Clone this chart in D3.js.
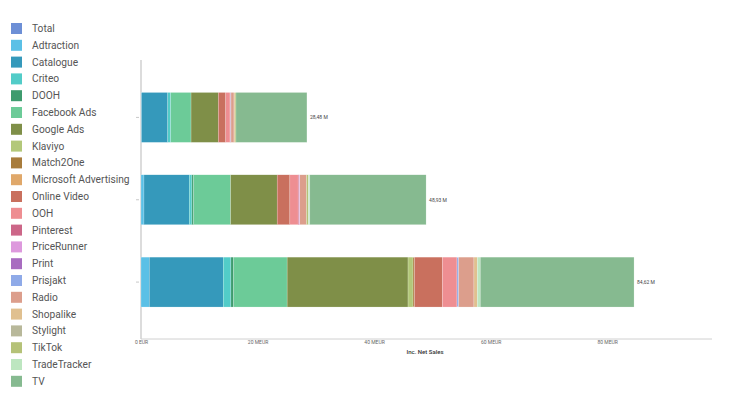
<!DOCTYPE html>
<html>
<head>
<meta charset="utf-8">
<script src="https://cdn.jsdelivr.net/npm/d3@7"></script>
<style>
  html, body { margin: 0; padding: 0; background: #fff; }
  svg { display: block; font-family: Roboto, "Noto Sans", sans-serif; }
</style>
</head>
<body>
<svg id="chart" width="730" height="400"></svg>
<script>
// ---- data ----
const categories = ["Period 1", "Period 2", "Period 3"];
const channels = ["Total", "Adtraction", "Catalogue", "Criteo", "DOOH", "Facebook Ads", "Google Ads",
  "Klaviyo", "Match2One", "Microsoft Advertising", "Online Video", "OOH", "Pinterest", "PriceRunner",
  "Print", "Prisjakt", "Radio", "Shopalike", "Stylight", "TikTok", "TradeTracker", "TV"];
const colors = ["#6d8fd6", "#5bc0e6", "#3599bb", "#52ccc8", "#3e9b6e", "#6ccb98", "#7f8f48",
  "#b3c87a", "#a87c3c", "#e0a86a", "#c9705e", "#ee8e92", "#cc6688", "#dd99dd",
  "#a86cc0", "#8faae8", "#dc9e8c", "#e0c090", "#b8b89a", "#b5c278", "#bde6c0", "#86ba90"];
// values in MEUR, aligned with channels
const period1 = [0, 0.10, 4.50, 0.51, 0, 3.48, 4.68, 0, 0, 0, 1.27, 0.74, 0.12, 0, 0, 0.05, 0.51, 0.17, 0, 0.17, 0, 12.18];
const period2 = [0, 0.51, 7.77, 0.46, 0.29, 6.35, 7.99, 0, 0, 0, 2.18, 1.42, 0.15, 0.14, 0, 0, 1.15, 0, 0, 0.30, 0.27, 19.95];
const period3 = [0, 1.42, 12.69, 1.32, 0.46, 9.19, 20.75, 0.86, 0.24, 0, 4.80, 2.50, 0, 0, 0, 0.29, 2.62, 0.58, 0, 0, 0.51, 26.39];
const xTicks = [0, 20, 40, 60, 80];
const xTickLabels = ["0 EUR", "20 MEUR", "40 MEUR", "60 MEUR", "80 MEUR"];
const xTitle = "Inc. Net Sales";

// ---- build table ----
const seriesValues = [period1, period2, period3];
const rows = categories.map((c, i) => {
  const r = { category: c };
  channels.forEach((ch, j) => r[ch] = seriesValues[i][j]);
  r.total = d3.sum(seriesValues[i]);
  return r;
});

const svg = d3.select("#chart");

// ---- scales ----
const x = d3.scaleLinear().domain([0, 98]).range([141, 712]);
const y = d3.scaleBand().domain(categories).range([76, 323.5]).paddingInner(0.394).paddingOuter(0.2);
const color = d3.scaleOrdinal().domain(channels).range(colors);

// ---- axes ----
svg.append("line").attr("x1", 141).attr("x2", 141).attr("y1", 60).attr("y2", 339)
  .attr("stroke", "#d0d0d0").attr("stroke-width", 1.5);
const yAxis = d3.axisLeft(y).tickSize(3).tickFormat(() => "");
const gy = svg.append("g").attr("transform", "translate(139,0)").call(yAxis);
gy.select(".domain").remove();
gy.selectAll(".tick line").attr("stroke", "#c8c8c8");

const xAxis = d3.axisBottom(x).tickValues(xTicks).tickSize(0).tickFormat((d, i) => xTickLabels[i]);
const gx = svg.append("g").attr("transform", "translate(0,339)").call(xAxis);
gx.select(".domain").remove();
svg.append("line").attr("x1", 141).attr("x2", 712).attr("y1", 339).attr("y2", 339)
  .attr("stroke", "#d0d0d0").attr("stroke-width", 1);
gx.selectAll(".tick text").attr("font-size", 5).attr("fill", "#666").attr("dy", "0.3em")
  .attr("font-family", "Roboto, sans-serif");

svg.append("text").attr("x", 425).attr("y", 354).attr("text-anchor", "middle")
  .attr("font-size", 6).attr("font-weight", 500).attr("fill", "#333").text(xTitle);

// ---- stacked bars ----
const stack = d3.stack().keys(channels);
const stacked = stack(rows);
const layers = svg.append("g").selectAll("g").data(stacked).join("g")
  .attr("fill", d => color(d.key));
layers.selectAll("rect").data(d => d.filter(s => s[1] - s[0] > 0)).join("rect")
  .attr("x", d => x(d[0]))
  .attr("y", d => y(d.data.category))
  .attr("width", d => x(d[1]) - x(d[0]))
  .attr("height", y.bandwidth())
  .attr("stroke", "#ffffff").attr("stroke-opacity", 0.5).attr("stroke-width", 0.4);

// total labels
svg.append("g").selectAll("text").data(rows).join("text")
  .attr("x", d => x(d.total) + 3)
  .attr("y", d => y(d.category) + y.bandwidth() / 2)
  .attr("dy", "0.35em")
  .attr("font-size", 5).attr("fill", "#444")
  .text(d => d3.format(".2f")(d.total).replace(".", ",") + " M");

// ---- legend ----
const legend = svg.append("g").selectAll("g").data(channels).join("g")
  .attr("transform", (d, i) => `translate(11,${23 + i * 16.8})`);
legend.append("rect").attr("width", 11).attr("height", 11).attr("fill", d => color(d));
legend.append("text").attr("x", 21).attr("y", 5.5).attr("dy", "0.35em")
  .attr("font-size", 10.2).attr("fill", "#555").text(d => d);
</script>
</body>
</html>
